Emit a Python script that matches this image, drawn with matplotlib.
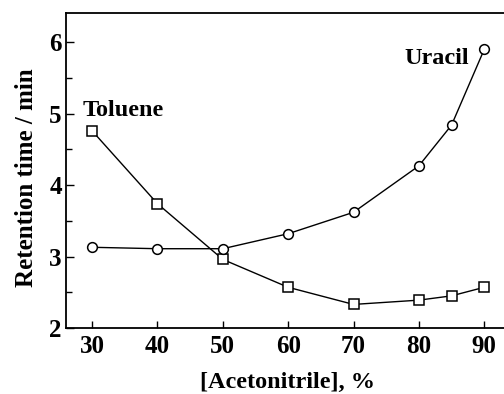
import numpy as np
import matplotlib
matplotlib.use('Agg')
import matplotlib.pyplot as plt
from matplotlib.ticker import MultipleLocator

# acetonitrile content (%)
acn = [30, 40, 50, 60, 70, 80, 85, 90]
# retention times (min)
toluene = [4.76, 3.74, 2.96, 2.57, 2.33, 2.39, 2.45, 2.57]
uracil = [3.13, 3.11, 3.11, 3.32, 3.62, 4.27, 4.84, 5.90]

plt.rcParams['font.family'] = ['Liberation Serif', 'DejaVu Serif']
plt.rcParams['font.weight'] = 'bold'

fig = plt.figure(figsize=(5.04, 3.94), dpi=100)
ax = fig.add_axes([66/504, 1 - 328/394, 1.01 - 66/504, (328 - 13)/394])

mk = dict(color='black', lw=1.0, markersize=7, markerfacecolor='white',
          markeredgecolor='black', markeredgewidth=1.1)
ax.plot(acn, toluene, marker='s', **mk)
ax.plot(acn, uracil, marker='o', **mk)

ax.text(28.6, 5.04, 'Toluene', fontsize=17.5, fontweight='bold', ha='left', va='center')
ax.text(87.7, 5.78, 'Uracil', fontsize=17.5, fontweight='bold', ha='right', va='center')

ax.set_xlim(26, 93.8)
ax.set_ylim(2, 6.41)
ax.set_xticks([30, 40, 50, 60, 70, 80, 90])
ax.set_yticks([2, 3, 4, 5, 6])
ax.yaxis.set_minor_locator(MultipleLocator(0.5))

ax.tick_params(axis='x', direction='in', length=5, width=1, labelsize=18, pad=5)
ax.tick_params(axis='y', direction='in', length=6, width=1, labelsize=18, pad=3)
ax.tick_params(axis='y', which='minor', direction='in', length=4, width=1)
for lab in ax.get_xticklabels() + ax.get_yticklabels():
    lab.set_fontweight('bold')

for s in ax.spines.values():
    s.set_linewidth(1.3)

ax.set_xlabel('[Acetonitrile], %', fontsize=17.5, fontweight='bold', labelpad=10)
ax.set_ylabel('Retention time / min', fontsize=18, fontweight='bold')
ax.yaxis.set_label_coords(-0.064, 0.476)

fig.savefig('out.png', dpi=100)
